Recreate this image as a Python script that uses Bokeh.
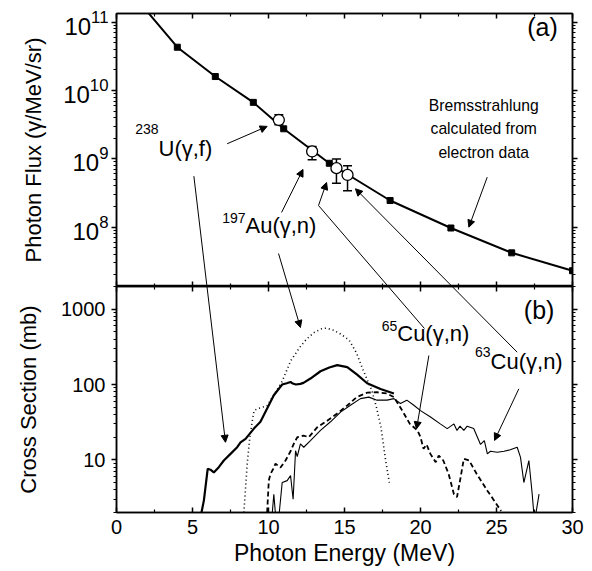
import math
from bokeh.plotting import figure
from bokeh.layouts import column
from bokeh.models import (Range1d, LinearAxis, LogAxis, FixedTicker, Label, Arrow,
                          NormalHead, TeeHead, Whisker, ColumnDataSource,
                          NumeralTickFormatter, LogTickFormatter, CustomJSTickFormatter)
from bokeh.embed import file_html
from bokeh.resources import INLINE

FONT = "Liberation Sans"

# ---------------- data ----------------
# (a) bremsstrahlung photon flux calculated from electron data
brems_e = [2.0, 4.0, 6.5, 9.0, 11.0, 14.0, 18.0, 22.0, 26.0, 30.0]
brems_flux = [1.45e11, 4.3e10, 1.6e10, 6.7e9, 2.75e9, 8.6e8, 2.45e8, 9.7e7, 4.2e7, 2.3e7]

# (a) measured flux points: 238U(g,f), 197Au(g,n), 65Cu(g,n), 63Cu(g,n)
meas_e = [10.68, 12.87, 14.47, 15.2]
meas_flux = [3.7e9, 1.28e9, 7.3e8, 5.8e8]
meas_lo = [3.15e9, 0.97e9, 4.4e8, 3.4e8]
meas_hi = [4.4e9, 1.51e9, 9.9e8, 7.9e8]

# (b) cross sections (mb)
u_e = [5.59, 5.75, 6.0, 6.18, 6.4, 6.73, 7.06, 7.5, 7.94, 8.16, 8.49, 9.04, 9.47,
       9.91, 10.35, 10.9, 11.2, 11.45, 11.6, 11.8, 12.1, 12.3, 12.76, 13.42, 14.0,
       14.52, 15.18, 15.83, 16.49, 17.37, 18.25]
u_xs = [2.0, 2.9, 7.6, 7.4, 6.8, 8.0, 9.8, 12, 14.7, 17, 19, 26, 32,
        48, 72, 100, 104, 108, 103, 100, 102, 105, 120, 150, 168,
        181, 170, 135, 104, 87, 76]

au_e = [8.38, 8.5, 8.6, 8.75, 8.9, 9.05, 9.3, 9.6, 9.9, 10.3, 10.9, 11.45, 12.1,
        12.5, 13.0, 13.5, 13.8, 14.3, 14.8, 15.3, 15.8, 16.2, 16.5, 16.8, 17.1,
        17.4, 17.7, 17.95]
au_xs = [2.0, 4.5, 8.9, 18, 30, 45, 48, 50, 52, 70, 110, 205, 320,
         400, 490, 550, 560, 525, 460, 390, 260, 160, 115, 83, 50,
         27, 10, 5]

cu65_e = [9.91, 10.02, 10.13, 10.3, 10.46, 10.79, 11.12, 11.45, 11.7, 11.9, 12.3,
          12.65, 13.2, 13.86, 14.5, 15.2, 15.8, 16.5, 17.1, 17.8, 18.25, 18.8, 19.3,
          19.8, 20.0, 20.2, 20.4, 20.65, 21.0, 21.2, 21.5, 21.85, 22.2, 22.4, 22.6,
          22.85, 23.2, 23.7, 24.4, 25.3]
cu65_xs = [2.0, 5.3, 6.5, 7.5, 8.9, 7.9, 9.8, 13, 17, 20, 21,
           20, 27, 33, 41, 53, 68, 78, 79, 76, 68, 45, 30,
           24.6, 20, 14, 16, 12, 9.3, 11.4, 9.8, 6.5, 3.5, 3.2, 5.3,
           10.3, 9.8, 6.5, 3.9, 2.1]

cu63_e = [10.2, 10.35, 10.5, 10.65, 10.9, 11.23, 11.45, 11.62, 11.78, 11.89, 12.1,
          12.32, 12.76, 13.42, 14.08, 14.74, 15.39, 16.05, 16.6, 17.14, 17.8, 18.25,
          18.68, 19.1, 19.56, 20.0, 20.66, 21.3, 21.76, 22.2, 22.4, 22.6, 22.85, 23.07,
          23.5, 23.95, 24.2, 24.4, 24.6, 25.05, 25.5, 25.9, 26.36, 26.58, 26.8, 27.13,
          27.35, 27.5, 27.8]
cu63_xs = [1.5, 3.5, 1.5, 1.5, 5.0, 5.3, 6.2, 3.0, 13.2, 11, 16.3,
           14.7, 18, 24.6, 32, 43, 53, 65, 68, 62, 62, 65,
           56, 62, 53, 45, 37, 30, 26, 30, 24.6, 28, 24.6, 28,
           26, 16, 18, 12, 13, 12.6, 13, 13.6, 14.7, 10.8, 5.0, 9.8,
           3.5, 1.5, 3.5]

x_major = [0, 5, 10, 15, 20, 25, 30]
x_minor = [2.5, 7.5, 12.5, 17.5, 22.5, 27.5]
top_major = [1e8, 1e9, 1e10, 1e11]
bot_major = [10, 100, 1000]

# ---------------- geometry ----------------
W = 592
LEFT, RIGHT = 116, 20
TOP_LO, TOP_HI = 1.35e7, 1.34e11
BOT_LO, BOT_HI = 2.0, 2000.0
H1, B1_TOP, B1_BOT = 286, 13, 0
H2, B2_TOP, B2_BOT = 285, 0, 59
TOP_H = H1 - B1_TOP - B1_BOT
BOT_H = H2 - B2_TOP - B2_BOT

BLANK = CustomJSTickFormatter(code="return ''")


def minor_log(decades):
    return [k * 10.0 ** d for d in decades for k in range(2, 10)]


def style_common(p):
    p.toolbar_location = None
    p.outline_line_color = "black"
    p.outline_line_width = 1.5
    p.background_fill_color = "white"
    p.border_fill_color = "white"
    p.min_border_left = LEFT
    p.min_border_right = RIGHT
    for g in p.grid:
        g.visible = False


def hide_labels(ax):
    ax.formatter = BLANK
    ax.major_label_text_font_size = "1px"
    ax.major_label_text_color = None
    ax.major_label_standoff = 0


def title(ax, text, size, standoff):
    ax.axis_label = text
    ax.axis_label_text_font = FONT
    ax.axis_label_text_font_size = size
    ax.axis_label_text_font_style = "normal"
    ax.axis_label_text_color = "black"
    ax.axis_label_standoff = standoff


def x_axis(labels):
    ax = LinearAxis(ticker=FixedTicker(ticks=x_major, minor_ticks=x_minor),
                    major_tick_in=5, major_tick_out=0, minor_tick_in=3, minor_tick_out=0,
                    axis_line_width=1.5, major_tick_line_width=1.5, minor_tick_line_width=1.2)
    if labels:
        ax.major_label_text_font = FONT
        ax.major_label_text_font_size = "20px"
        ax.major_label_text_color = "black"
        ax.major_label_standoff = 7
    else:
        hide_labels(ax)
    return ax


def style_y(ax, labels, size="20px"):
    ax.major_tick_in = 0
    ax.major_tick_out = 5
    ax.minor_tick_in = 0
    ax.minor_tick_out = 3
    ax.axis_line_width = 1.5
    ax.major_tick_line_width = 1.5
    ax.minor_tick_line_width = 1.0
    if labels:
        ax.major_label_text_font = FONT
        ax.major_label_text_font_size = size
        ax.major_label_text_color = "black"
    else:
        hide_labels(ax)


# ---------------- panel (a) ----------------
p1 = figure(width=W, height=H1, x_range=Range1d(0, 30), y_range=Range1d(TOP_LO, TOP_HI),
            y_axis_type="log", x_axis_location=None, output_backend="svg",
            toolbar_location=None)
style_common(p1)
p1.min_border_top = B1_TOP
p1.min_border_bottom = B1_BOT
top_ticker = FixedTicker(ticks=top_major, minor_ticks=minor_log(range(7, 12)))
ya = p1.yaxis[0]
ya.ticker = top_ticker
ya.formatter = LogTickFormatter()
style_y(ya, True, "24px")
ya.major_label_standoff = 3
title(ya, "Photon Flux (γ/MeV/sr)", "22px", 14)
ra = LogAxis(ticker=top_ticker)
style_y(ra, False)
p1.add_layout(ra, "right")
p1.add_layout(x_axis(False), "above")
p1.add_layout(x_axis(False), "below")

p1.line(brems_e, brems_flux, line_color="black", line_width=2)
p1.scatter(brems_e[1:], brems_flux[1:], marker="square", size=6, color="black")
src = ColumnDataSource(dict(x=meas_e, y=meas_flux, lo=meas_lo, hi=meas_hi))
p1.add_layout(Whisker(base="x", upper="hi", lower="lo", source=src, dimension="height",
                      line_width=1.5, line_color="black",
                      upper_head=TeeHead(size=9, line_width=1.5, line_color="black"),
                      lower_head=TeeHead(size=9, line_width=1.5, line_color="black")))
p1.scatter("x", "y", source=src, marker="circle", size=11, fill_color="white",
           line_color="black", line_width=1.3)

# ---------------- panel (b) ----------------
p2 = figure(width=W, height=H2, x_range=p1.x_range, y_range=Range1d(BOT_LO, BOT_HI),
            y_axis_type="log", x_axis_location=None, output_backend="svg",
            toolbar_location=None)
style_common(p2)
p2.min_border_top = B2_TOP
p2.min_border_bottom = B2_BOT
bot_ticker = FixedTicker(ticks=bot_major, minor_ticks=minor_log(range(0, 4)))
yb = p2.yaxis[0]
yb.ticker = bot_ticker
yb.formatter = NumeralTickFormatter(format="0")
style_y(yb, True)
yb.major_label_standoff = 6
title(yb, "Cross Section (mb)", "22px", 17)
rb = LogAxis(ticker=bot_ticker)
style_y(rb, False)
p2.add_layout(rb, "right")
p2.add_layout(x_axis(False), "above")
xb = x_axis(True)
title(xb, "Photon Energy (MeV)", "23px", 3)
p2.add_layout(xb, "below")

p2.line(u_e, u_xs, line_color="black", line_width=2.2)
p2.line(au_e, au_xs, line_color="black", line_width=1.6, line_dash="1 3")
p2.line(cu65_e, cu65_xs, line_color="black", line_width=1.8, line_dash="5 3")
p2.line(cu63_e, cu63_xs, line_color="black", line_width=1.1)

# ---------------- annotations ----------------
figs = {"t": p1, "b": p2}
edge = {"t": TOP_LO, "b": BOT_HI}


def gy(panel, v):
    if panel == "t":
        return -(math.log10(v) - math.log10(TOP_LO)) / (math.log10(TOP_HI) - math.log10(TOP_LO)) * TOP_H
    return (math.log10(BOT_HI) - math.log10(v)) / (math.log10(BOT_HI) - math.log10(BOT_LO)) * BOT_H


def seg(p, x0, y0, x1, y1, head):
    end = NormalHead(size=7, fill_color="black", line_color="black", line_width=1) if head else None
    p.add_layout(Arrow(x_start=x0, y_start=y0, x_end=x1, y_end=y1, line_width=1,
                       line_color="black", end=end))


def arrow(pa, xa, va, pb, xb, vb, head=True):
    if pa == pb:
        seg(figs[pa], xa, va, xb, vb, head)
        return
    ya_, yb_ = gy(pa, va), gy(pb, vb)
    t = ya_ / (ya_ - yb_)
    xc = xa + t * (xb - xa)
    seg(figs[pa], xa, va, xc, edge[pa], False)
    seg(figs[pb], xc, edge[pb], xb, vb, head)


arrow("t", 7.28, 1.66e9, "t", 9.91, 2.98e9)          # 238U -> flux point
arrow("t", 5.09, 5.57e8, "b", 7.17, 17.1)            # 238U -> cross section
arrow("t", 10.86, 1.64e8, "t", 12.27, 6.99e8)        # 197Au -> flux point
arrow("t", 10.66, 4.1e7, "b", 12.1, 571)             # 197Au -> cross section
arrow("b", 20.26, 554, "t", 13.29, 2.07e8, head=False)  # 65Cu -> kink
arrow("t", 13.29, 2.07e8, "t", 13.82, 4.5e8)         # kink -> 65Cu flux point
arrow("b", 26.36, 268.5, "t", 15.72, 3.64e8)         # 63Cu -> flux point
arrow("b", 20.55, 242.6, "b", 19.74, 25.8)           # 65Cu -> cross section
arrow("b", 26.47, 87.7, "b", 24.87, 18.1)            # 63Cu -> cross section
arrow("t", 24.39, 5.38e8, "t", 23.18, 9.98e7)        # Bremsstrahlung -> curve


def lab(p, x, y, text, size, align="left"):
    p.add_layout(Label(x=x, y=y, text=text, text_font=FONT, text_font_size=size,
                       text_align=align, text_baseline="middle", text_color="black"))


lab(p1, 2.763, 2.69e9, "238", "14px", "right")
lab(p1, 2.763, 1.42e9, "U(γ,f)", "22px")
lab(p1, 8.487, 1.34e8, "197", "14px", "right")
lab(p1, 8.487, 1.06e8, "Au(γ,n)", "22px")
lab(p1, 27.02, 8.6e10, "(a)", "25px")
lab(p1, 24.16, 6.03e9, "Bremsstrahlung", "15.7px", "center")
lab(p1, 24.16, 2.75e9, "calculated from", "15.7px", "center")
lab(p1, 24.16, 1.25e9, "electron data", "15.7px", "center")

lab(p2, 26.8, 984, "(b)", "25px")
lab(p2, 18.47, 607, "65", "14px", "right")
lab(p2, 18.47, 476, "Cu(γ,n)", "22px")
lab(p2, 24.61, 268, "63", "14px", "right")
lab(p2, 24.61, 202, "Cu(γ,n)", "22px")

layout = column(p1, p2, spacing=0)
open("out.html", "w").write(file_html(layout, INLINE))
